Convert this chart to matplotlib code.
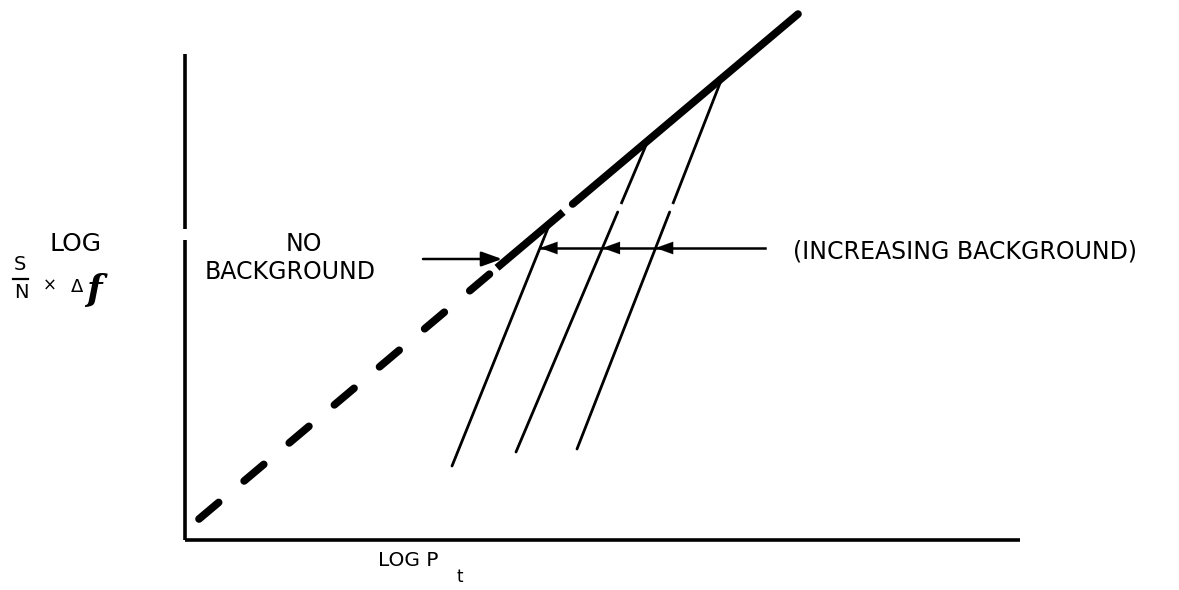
import matplotlib
matplotlib.use("Agg")
import matplotlib.pyplot as plt
import numpy as np

plt.rcParams["lines.scale_dashes"] = False

# ---- data (schematic units: x = log Pt, y = log S/N x delta f) ----
axis_x_end = 8.35
axis_y_end = 4.86
yaxis_gap = (3.00, 3.11)

main_start = (0.14, 0.21)
main_slope = 0.843
main_dash_end_x = 3.06
main_solid_start_x = 3.12
main_end_x = 6.13

break_band = (3.28, 3.36)          # small break across the lines

bg_bottom_x = [2.67, 3.31, 3.92]
bg_bottom_y = [0.74, 0.88, 0.91]
bg_top_x = [3.65, 4.63, 5.37]

arrow_left_y = 2.81
arrow_left_x = (2.38, 3.17)
arrow_right_y = 2.92
arrow_right_x_end = 5.80

labels_no_bg = ["NO", "BACKGROUND"]
label_increasing = "(INCREASING BACKGROUND)"
xlabel_main = "LOG P"
xlabel_sub = "t"

# ---- figure ----
fig = plt.figure(figsize=(11.79, 5.90), dpi=100)
ax = fig.add_axes([0, 0, 1, 1])
ax.set_xlim(-1.85, 9.94)
ax.set_ylim(-0.50, 5.40)
ax.axis("off")

K = "black"

def main_y(x):
    return main_start[1] + main_slope * (x - main_start[0])

def main_x(y):
    return main_start[0] + (y - main_start[1]) / main_slope

# axes
ax.plot([0, axis_x_end], [0, 0], color=K, lw=2.6, solid_capstyle="butt")
ax.plot([0, 0], [0, yaxis_gap[0]], color=K, lw=2.6, solid_capstyle="butt")
ax.plot([0, 0], [yaxis_gap[1], axis_y_end], color=K, lw=2.6, solid_capstyle="butt")

# main line: dashed part
xd = np.array([main_start[0], main_dash_end_x])
ax.plot(xd, main_y(xd), color=K, lw=5.5, dash_capstyle="round",
        linestyle=(0, (18.5, 24.0)))

# main line: solid part with the break
x_b0 = main_x(break_band[0])
x_b1 = main_x(break_band[1])
ax.plot([main_solid_start_x, x_b0], [main_y(main_solid_start_x), main_y(x_b0)],
        color=K, lw=5.5, solid_capstyle="butt")
ax.plot([x_b1, main_end_x], [main_y(x_b1), main_y(main_end_x)],
        color=K, lw=5.5, solid_capstyle="round")

# background lines
for xb, yb, xt in zip(bg_bottom_x, bg_bottom_y, bg_top_x):
    yt = main_y(xt)
    def lx(y):
        return xb + (y - yb) * (xt - xb) / (yt - yb)
    if yt > break_band[1]:
        ax.plot([xb, lx(break_band[0])], [yb, break_band[0]], color=K, lw=2.0,
                solid_capstyle="round")
        ax.plot([lx(break_band[1]), xt], [break_band[1], yt], color=K, lw=2.0,
                solid_capstyle="butt")
    else:
        ax.plot([xb, xt], [yb, yt], color=K, lw=2.0, solid_capstyle="round")

head = "-|>,head_length=1.25,head_width=0.45"

# arrow to "no background" line
ax.annotate("", xy=(arrow_left_x[1], arrow_left_y), xytext=(arrow_left_x[0], arrow_left_y),
            arrowprops=dict(arrowstyle=head, color=K, lw=1.8, shrinkA=0, shrinkB=0))

# arrows of increasing background (pointing left at each line)
tips = []
for xb, yb, xt in zip(bg_bottom_x, bg_bottom_y, bg_top_x):
    yt = main_y(xt)
    tips.append(xb + (arrow_right_y - yb) * (xt - xb) / (yt - yb))
ax.plot([tips[0], arrow_right_x_end], [arrow_right_y, arrow_right_y], color=K, lw=1.8)
for t in tips:
    ax.annotate("", xy=(t, arrow_right_y), xytext=(t + 0.20, arrow_right_y),
                arrowprops=dict(arrowstyle=head, color=K, lw=0.1, shrinkA=0, shrinkB=0))

# text
fam = ["DejaVu Sans"]
ax.text(1.19, 2.96, labels_no_bg[0], ha="center", va="center", fontsize=17, family=fam)
ax.text(1.05, 2.68, labels_no_bg[1], ha="center", va="center", fontsize=17, family=fam)
ax.text(6.08, 2.88, label_increasing, ha="left", va="center", fontsize=17, family=fam)

# y label
ax.text(-1.09, 2.96, "LOG", ha="center", va="center", fontsize=18, family=fam)
ax.text(-1.65, 2.75, "S", ha="center", va="center", fontsize=14, family=fam)
ax.plot([-1.72, -1.57], [2.61, 2.61], color=K, lw=1.6)
ax.text(-1.64, 2.48, "N", ha="center", va="center", fontsize=14, family=fam)
ax.text(-1.35, 2.54, "×", ha="center", va="center", fontsize=12, family=fam)
ax.text(-1.08, 2.53, "Δ", ha="center", va="center", fontsize=13, family=fam)
ax.text(-0.91, 2.50, "f", ha="center", va="center", fontsize=26, family=["DejaVu Serif"],
        style="italic", weight="bold")

# x label
ax.text(1.93, -0.21, xlabel_main, ha="left", va="center", fontsize=14.5, family=fam)
ax.text(2.75, -0.37, xlabel_sub, ha="center", va="center", fontsize=12, family=fam)

fig.savefig("out.png", dpi=100)
